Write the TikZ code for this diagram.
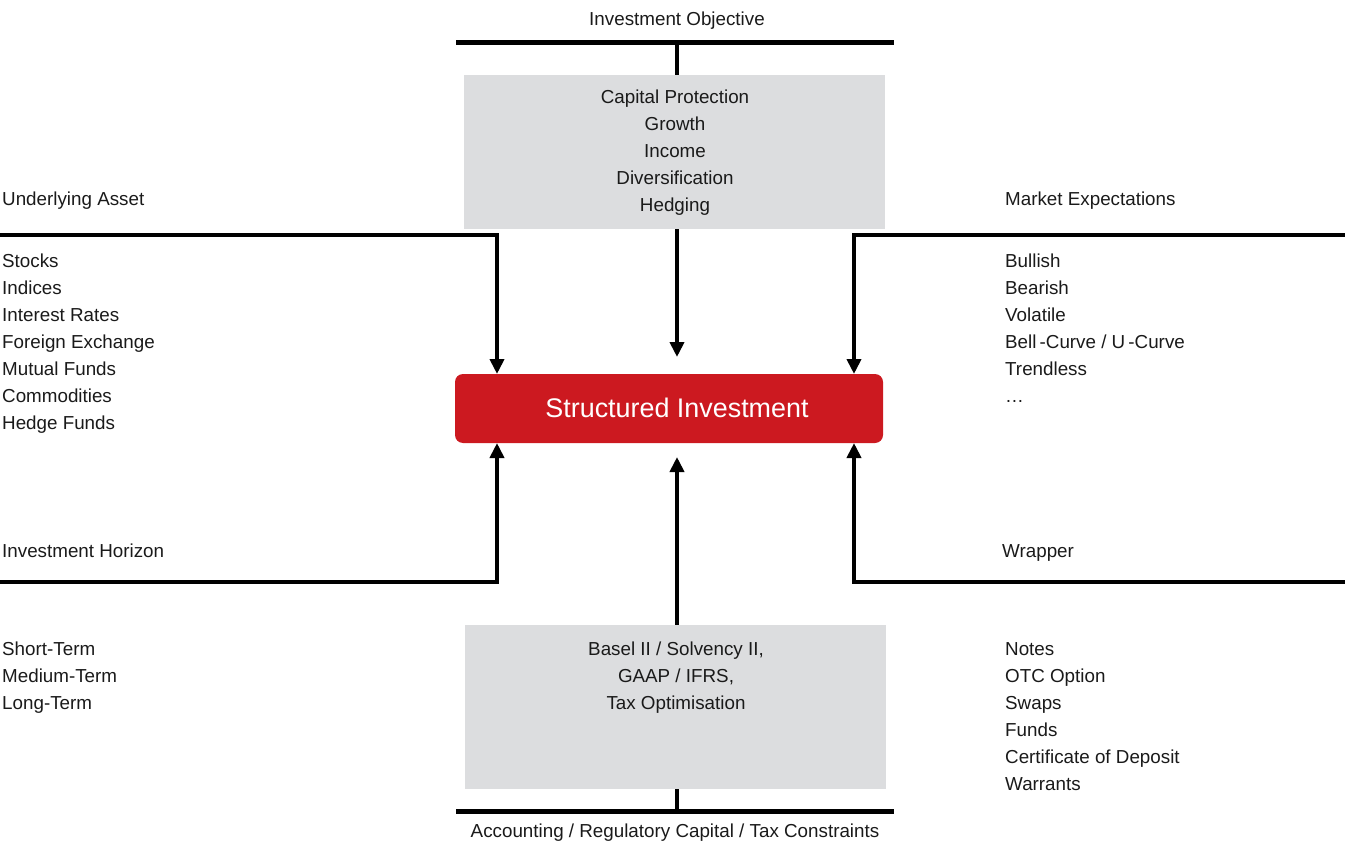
\documentclass[tikz,border=0pt]{standalone}
\usepackage{fontspec}
\setmainfont{Liberation Sans}
\usetikzlibrary{arrows.meta,calc}
\definecolor{boxgray}{HTML}{DCDDDF}
\definecolor{sired}{HTML}{CC1920}
\definecolor{ink}{HTML}{1A1A1A}
\begin{document}
\begin{tikzpicture}[x=1pt,y=-1pt,
  lbl/.style={inner sep=0pt,text=ink,font=\fontsize{18.8}{22}\selectfont},
  lblw/.style={lbl,anchor=base west},
  lblc/.style={lbl,anchor=base},
  bar/.style={line width=4.5pt,draw=black},
  arr/.style={line width=4.5pt,draw=black,-{Triangle[width=14pt,length=15pt]}},
  graybox/.style={fill=boxgray,draw=none,inner sep=0pt},
]
\useasboundingbox (0,0) rectangle (1345,848);

% central product box
\node[fill=sired,rounded corners=8pt,minimum width=428pt,minimum height=69pt,inner sep=0pt] (si) at (669,408.5) {};
\node[text=white,inner sep=0pt,font=\fontsize{26.9}{30}\selectfont] (si-t) at (677,408) {Structured Investment};

% grey content boxes
\node[graybox,minimum width=421pt,minimum height=154pt] (objbox) at (674.5,152) {};
\node[graybox,minimum width=421pt,minimum height=164pt] (regbox) at (675.5,707) {};

% investment objective (top)
\node[lblc] (objt) at (677,26) {Investment Objective};
\coordinate (tb-l) at (456,42.5);
\coordinate (tb-r) at (894,42.5);
\coordinate (tb-m) at (677,42.5);
\draw[bar] (tb-l) -- (tb-r);
\draw[bar] (tb-m) -- (tb-m |- objbox.north);
\foreach \t [count=\i from 0] in {Capital Protection,Growth,Income,Diversification,Hedging}
  \node[lblc] (obj-\i) at (675,103.5+27*\i) {\t};
\coordinate (ct-tip) at (677,357);
\draw[arr] (tb-m |- objbox.south) -- (ct-tip);

% accounting / regulatory (bottom)
\node[lblc] (regt) at (675,837.5) {Accounting / Regulatory Capital / Tax Constraints};
\coordinate (bb-l) at (456,811.5);
\coordinate (bb-r) at (894,811.5);
\coordinate (bb-m) at (677,811.5);
\draw[bar] (bb-l) -- (bb-r);
\draw[bar] (bb-m) -- (bb-m |- regbox.south);
\foreach \t [count=\i from 0] in {{Basel II / Solvency II,},{GAAP / IFRS,},Tax Optimisation}
  \node[lblc] (reg-\i) at (676,655.5+27*\i) {\t};
\coordinate (cb-tip) at (677,457);
\draw[arr] (bb-m |- regbox.north) -- (cb-tip);

% underlying asset (top left)
\node[lblw] (uat) at (2,206) {Underlying Asset};
\foreach \t [count=\i from 0] in {Stocks,Indices,Interest Rates,Foreign Exchange,Mutual Funds,Commodities,Hedge Funds}
  \node[lblw] (ua-\i) at (2,267+27.1*\i) {\t};
\coordinate (ua-s) at (0,235);
\coordinate (ua-tip) at (497,374);
\draw[arr] (ua-s) -| (ua-tip);

% market expectations (top right)
\node[lblw] (met) at (1005,206) {Market Expectations};
\foreach \t [count=\i from 0] in {Bullish,Bearish,Volatile,Bell\,-Curve / U\,-Curve,Trendless,\dots}
  \node[lblw] (me-\i) at (1005,267+27*\i) {\t};
\coordinate (me-s) at (1345,235);
\coordinate (me-tip) at (854,374);
\draw[arr] (me-s) -| (me-tip);

% investment horizon (bottom left)
\node[lblw] (iht) at (2,557.5) {Investment Horizon};
\foreach \t [count=\i from 0] in {Short-Term,Medium-Term,Long-Term}
  \node[lblw] (ih-\i) at (2,655.5+27*\i) {\t};
\coordinate (ih-s) at (0,582);
\coordinate (ih-tip) at (497,443);
\draw[arr] (ih-s) -| (ih-tip);

% wrapper (bottom right)
\node[lblw] (wrt) at (1002,557.5) {Wrapper};
\foreach \t [count=\i from 0] in {Notes,OTC Option,Swaps,Funds,Certificate of Deposit,Warrants}
  \node[lblw] (wr-\i) at (1005,655+27.1*\i) {\t};
\coordinate (wr-s) at (1345,582);
\coordinate (wr-tip) at (854,443);
\draw[arr] (wr-s) -| (wr-tip);
\end{tikzpicture}
\end{document}
